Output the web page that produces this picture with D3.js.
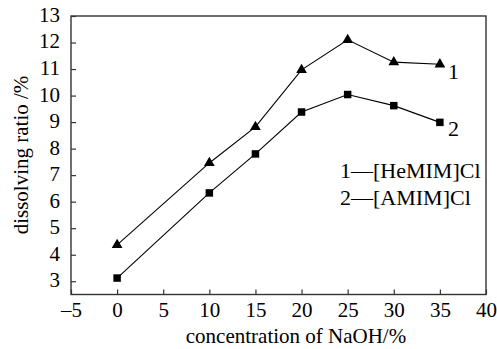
<!DOCTYPE html>
<html>
<head>
<meta charset="utf-8">
<script src="https://cdn.jsdelivr.net/npm/d3@7"></script>
<style>
  body { margin: 0; background: #fff; }
  text { font-family: "Liberation Serif", "DejaVu Serif", serif; fill: #000; }
</style>
</head>
<body>
<svg id="chart"></svg>
<script>
// data
const naoh = [0, 10, 15, 20, 25, 30, 35];
const hemim = [4.37, 7.46, 8.82, 10.97, 12.1, 11.26, 11.18];
const amim = [3.12, 6.33, 7.8, 9.38, 10.04, 9.62, 8.99];
const xTicks = [-5, 0, 5, 10, 15, 20, 25, 30, 35, 40];
const yTicks = [3, 4, 5, 6, 7, 8, 9, 10, 11, 12, 13];
const legendLabels = ["1\u2014[HeMIM]Cl", "2\u2014[AMIM]Cl"];

const width = 497, height = 349;
const margin = {left: 71, top: 16, right: 11, bottom: 54.5};

const svg = d3.select("#chart").attr("width", width).attr("height", height);

const x = d3.scaleLinear().domain([-5, 40]).range([margin.left, width - margin.right]);
const y = d3.scaleLinear().domain([2.5, 13]).range([height - margin.bottom, margin.top]);

// frame
svg.append("rect")
    .attr("x", x(-5)).attr("y", y(13))
    .attr("width", x(40) - x(-5)).attr("height", y(2.5) - y(13))
    .attr("fill", "none").attr("stroke", "#333").attr("stroke-width", 1.4);

// axes, ticks pointing inward
const xAxis = svg.append("g")
    .attr("transform", `translate(0,${y(2.5)})`)
    .call(d3.axisBottom(x).tickValues(xTicks).tickSizeInner(-5).tickSizeOuter(0)
        .tickPadding(8).tickFormat(d => d < 0 ? "\u2013" + Math.abs(d) : d));
xAxis.select(".domain").remove();
xAxis.selectAll("line").attr("stroke", "#333").attr("stroke-width", 1.2);
xAxis.selectAll("text").attr("font-size", 21);

const yAxis = svg.append("g")
    .attr("transform", `translate(${x(-5)},0)`)
    .call(d3.axisLeft(y).tickValues(yTicks).tickSizeInner(-5).tickSizeOuter(0).tickPadding(11));
yAxis.select(".domain").remove();
yAxis.selectAll("line").attr("stroke", "#333").attr("stroke-width", 1.2);
yAxis.selectAll("text").attr("font-size", 21).attr("dy", "0.26em");

// axis titles
svg.append("text")
    .attr("x", 296).attr("y", 343)
    .attr("text-anchor", "middle").attr("font-size", 21)
    .text("concentration of NaOH/%");

svg.append("text")
    .attr("transform", `translate(28,155) rotate(-90)`)
    .attr("text-anchor", "middle").attr("font-size", 21)
    .text("dissolving ratio /%");

// lines
const line = d3.line().x((d, i) => x(naoh[i])).y(d => y(d));

[hemim, amim].forEach(series => {
    svg.append("path")
        .datum(series)
        .attr("d", line)
        .attr("fill", "none").attr("stroke", "#000").attr("stroke-width", 1.1);
});

// markers
svg.selectAll(".tri")
    .data(hemim).enter()
    .append("path")
    .attr("class", "tri")
    .attr("transform", (d, i) => `translate(${x(naoh[i])},${y(d)})`)
    .attr("d", d3.symbol().type(d3.symbolTriangle).size(50))
    .attr("fill", "#000");

svg.selectAll(".sq")
    .data(amim).enter()
    .append("path")
    .attr("class", "sq")
    .attr("transform", (d, i) => `translate(${x(naoh[i])},${y(d)})`)
    .attr("d", d3.symbol().type(d3.symbolSquare).size(56))
    .attr("fill", "#000");

// series numbers at line ends
svg.append("text").attr("x", 448).attr("y", 79)
    .attr("font-size", 22).text("1");
svg.append("text").attr("x", 448).attr("y", 136)
    .attr("font-size", 22).text("2");

// legend
legendLabels.forEach((t, i) => {
    svg.append("text")
        .attr("x", 340).attr("y", 178 + i * 27)
        .attr("font-size", 22)
        .text(t);
});
</script>
</body>
</html>
